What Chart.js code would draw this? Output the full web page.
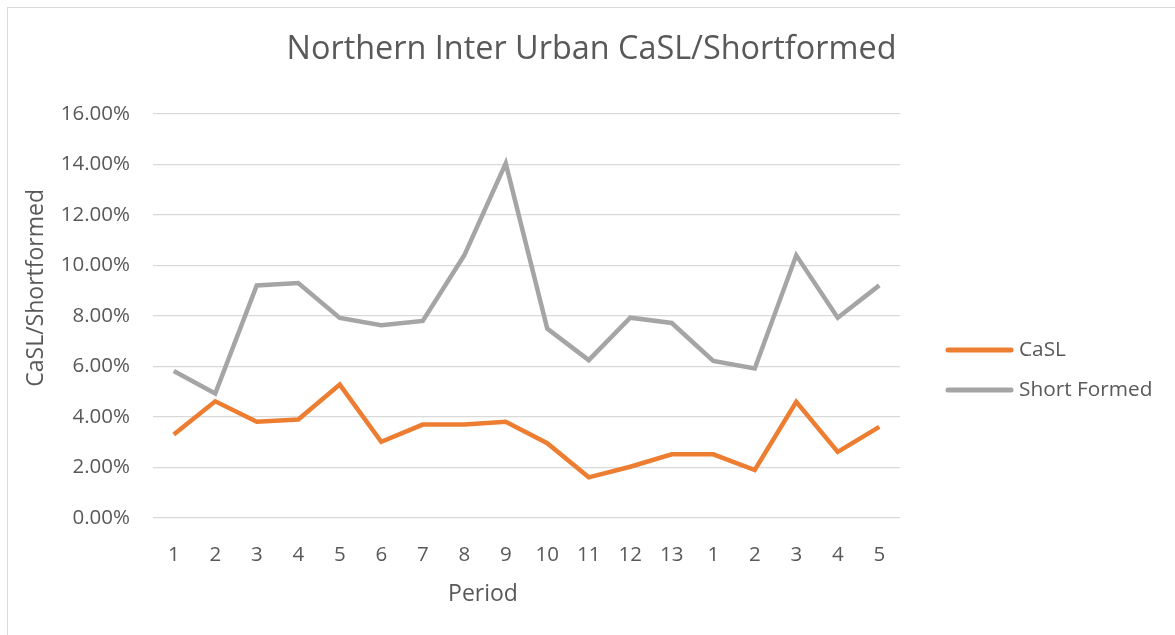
<!DOCTYPE html>
<html>
<head>
<meta charset="utf-8">
<script src="https://cdn.jsdelivr.net/npm/chart.js@4.4.0/dist/chart.umd.min.js"></script>
<style>
  html, body { margin: 0; padding: 0; background: #fff; }
  #wrap { position: relative; width: 1175px; height: 635px; overflow: hidden; }
  #frame { position: absolute; left: 7px; top: 7px; width: 1180px; height: 640px; border: 1px solid #d9d9d9; pointer-events: none; }
  canvas { position: absolute; left: 0; top: 0; }
</style>
</head>
<body>
<div id="wrap">
  <canvas id="chart" width="1175" height="635"></canvas>
  <div id="frame"></div>
</div>
<script>
// periods (two years of 4-weekly periods)
const periods = ['1', '2', '3', '4', '5', '6', '7', '8', '9', '10', '11', '12', '13', '1', '2', '3', '4', '5'];

// values in percent
const caslValues = [3.31, 4.62, 3.81, 3.90, 5.28, 3.02, 3.70, 3.70, 3.81, 2.96, 1.61, 2.03, 2.52, 2.52, 1.90, 4.60, 2.62, 3.61];
const shortFormedValues = [5.82, 4.93, 9.21, 9.30, 7.92, 7.63, 7.80, 10.40, 14.04, 7.50, 6.25, 7.93, 7.72, 6.22, 5.92, 10.40, 7.93, 9.21];

const yTicks = [0, 2, 4, 6, 8, 10, 12, 14, 16];

const xTitle = 'Period';
const yTitle = 'CaSL/Shortformed';

const textColor = '#595959';
const fontFamily = '"Open Sans", "Noto Sans", sans-serif';

// legend and axis titles placed the way excel puts them
const excelBits = {
    id: 'excelBits',
    afterDraw(chart) {
        const c = chart.ctx;
        const area = chart.chartArea;
        const x0 = area.right + 46;
        chart.data.datasets.forEach((ds, i) => {
            const y = area.top + 236 + i * 40;
            c.save();
            c.strokeStyle = ds.borderColor;
            c.lineWidth = 5;
            c.lineCap = 'round';
            c.beginPath();
            c.moveTo(x0 + 2, y);
            c.lineTo(x0 + 65, y);
            c.stroke();
            c.fillStyle = textColor;
            c.font = '20.8px ' + fontFamily;
            c.textBaseline = 'middle';
            c.fillText(ds.label, x0 + 73, y);
            c.restore();
        });

        c.save();
        c.fillStyle = textColor;
        c.font = '23px ' + fontFamily;
        c.textAlign = 'center';
        c.textBaseline = 'middle';
        c.fillText(xTitle, area.left + 330, area.bottom + 76);
        c.translate(36, area.top + 174);
        c.rotate(-Math.PI / 2);
        c.fillText(yTitle, 0, 0);
        c.restore();
    },
};

const ctx = document.getElementById('chart').getContext('2d');
new Chart(ctx, {
    type: 'line',
    data: {
        labels: periods,
        datasets: [
            {
                label: 'CaSL',
                data: caslValues,
                borderColor: '#ED7D31',
                backgroundColor: '#ED7D31',
                borderWidth: 4.5,
                pointRadius: 0,
                tension: 0,
                fill: false,
            },
            {
                label: 'Short Formed',
                data: shortFormedValues,
                borderColor: '#A5A5A5',
                backgroundColor: '#A5A5A5',
                borderWidth: 4.5,
                pointRadius: 0,
                tension: 0,
                fill: false,
            },
        ],
    },
    plugins: [excelBits],
    options: {
        responsive: false,
        animation: false,
        layout: {
            padding: { left: 8, right: 0, top: 10, bottom: 10 },
        },
        plugins: {
            title: {
                display: true,
                text: 'Northern Inter Urban CaSL/Shortformed',
                color: textColor,
                font: { family: fontFamily, size: 32.4, weight: 'normal' },
                padding: { top: 20, bottom: 45 },
            },
            legend: { display: false },
            tooltip: { enabled: false },
        },
        scales: {
            x: {
                offset: true,
                grid: { display: false, drawTicks: false },
                border: { display: false },
                ticks: {
                    color: textColor,
                    font: { family: fontFamily, size: 20.5 },
                    padding: 25,
                    maxRotation: 0,
                    autoSkip: false,
                },
                afterFit: (axis) => {
                    axis.height = 107;
                },
            },
            y: {
                min: 0,
                max: 16,
                afterBuildTicks: (axis) => {
                    axis.ticks = yTicks.map(v => ({ value: v }));
                },
                grid: { color: '#D9D9D9', lineWidth: 1.3, drawTicks: false },
                border: { display: false },
                ticks: {
                    color: textColor,
                    font: { family: fontFamily, size: 20.5 },
                    padding: 23,
                    callback: (v) => v.toFixed(2) + '%',
                },
                afterFit: (axis) => {
                    axis.width = 145;
                },
            },
            // empty space on the right that holds the legend
            legendSpace: {
                type: 'linear',
                position: 'right',
                grid: { display: false, drawTicks: false },
                border: { display: false },
                ticks: { display: false },
                afterFit: (axis) => {
                    axis.width = 275;
                },
            },
        },
    },
});
</script>
</body>
</html>
